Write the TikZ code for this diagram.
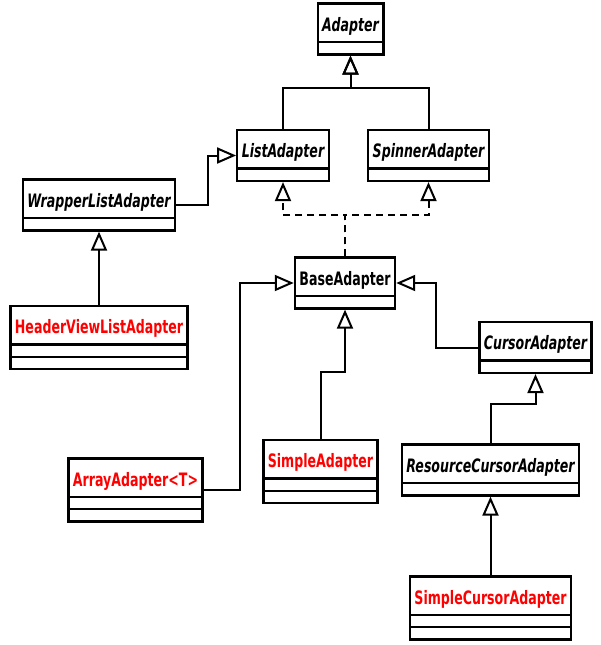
\documentclass[tikz,border=0pt]{standalone}
\usepackage{fontspec}
\usetikzlibrary{shapes.multipart,arrows.meta}
\newfontfamily\umlfont[FakeStretch=0.68]{DejaVu Sans}
\newcommand\cname[1]{\rule[-9.5pt]{0pt}{36pt}#1}

\begin{document}
\begin{tikzpicture}[x=1pt,y=-1pt,
    klass/.style={rectangle split, rectangle split parts=2, draw, line width=2.4pt,
      inner xsep=4.5pt, inner ysep=0pt,
      rectangle split empty part height=10pt, rectangle split empty part depth=0pt,
      font=\umlfont\fontsize{18.5}{20}\selectfont\bfseries},
    concrete/.style={klass, rectangle split parts=3, text=red},
    inherit/.style={line width=2pt, -{Triangle[open,length=19pt,width=16pt]}},
    realize/.style={inherit, dash pattern=on 7pt off 5pt}]
  \useasboundingbox (0,0) rectangle (600,645);

  \node[klass] (adapter) at (350.5,29) {\itshape\cname{Adapter}};
  \node[klass] (list) at (283,155.5) {\itshape\cname{ListAdapter}};
  \node[klass] (spinner) at (428.5,155.5) {\itshape\cname{SpinnerAdapter}};
  \node[klass] (wrapper) at (99,205) {\itshape\cname{WrapperListAdapter}};
  \node[concrete] (header) at (99,337.5) {\cname{HeaderViewListAdapter}};
  \node[klass] (base) at (345,283) {\cname{BaseAdapter}};
  \node[klass] (cursor) at (535.5,347.5) {\itshape\cname{CursorAdapter}};
  \node[concrete] (array) at (135.5,490) {\cname{ArrayAdapter<T>}};
  \node[concrete] (simple) at (320.5,471.5) {\cname{SimpleAdapter}};
  \node[klass] (rescursor) at (490.5,470) {\itshape\cname{ResourceCursorAdapter}};
  \node[concrete] (simplecursor) at (490.5,608) {\cname{SimpleCursorAdapter}};

  \draw[inherit] (list.north) -- ++(0,-41) -| (adapter.south);
  \draw[inherit] (spinner.north) -- ++(0,-41) -| (adapter.south);
  \draw[inherit] (wrapper.east) -- ++(32,0) |- (list.west);
  \draw[inherit] (header.north) -- (wrapper.south);

  \draw[realize] (base.north) -- ++(0,-41) -| (list.south);
  \draw[realize] (base.north) -- ++(0,-41) -| (spinner.south);

  \draw[inherit] (array.east) -- ++(36,0) |- (base.west);
  \draw[inherit] (cursor.west) -- ++(-42,0) |- (base.east);
  \draw[inherit] (simple.north) -- ++(0,-67) -| (base.south);
  \draw[inherit] (rescursor.north) -- ++(0,-39) -| (cursor.south);
  \draw[inherit] (simplecursor.north) -- (rescursor.south);
\end{tikzpicture}
\end{document}
